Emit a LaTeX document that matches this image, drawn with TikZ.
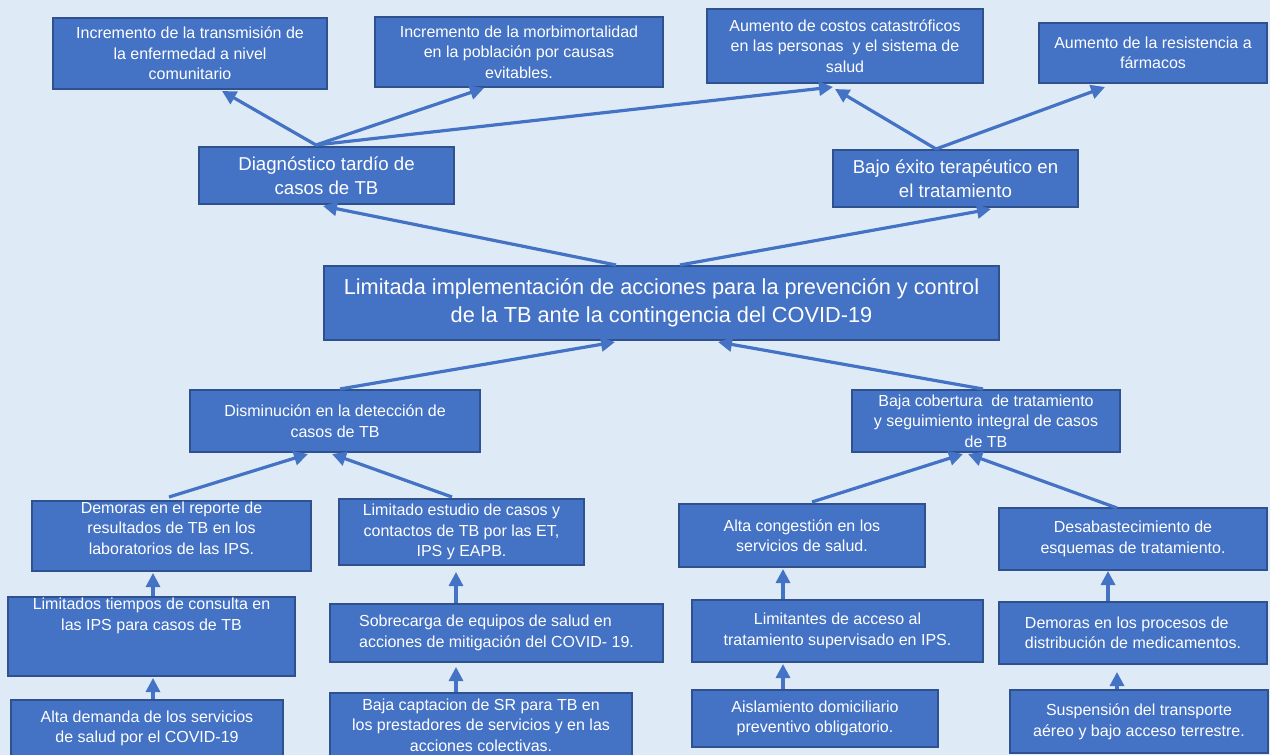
\documentclass[tikz,border=0pt]{standalone}
\usepackage{fontspec}
\setmainfont{Liberation Sans}
\usetikzlibrary{arrows.meta,calc}
\definecolor{bgc}{HTML}{DEEBF7}
\definecolor{boxfill}{HTML}{4472C4}
\definecolor{boxline}{HTML}{2F528F}
\definecolor{arrc}{HTML}{4472C4}
\newcommand\bx[7]{\node[box,#6,minimum width={(#4-#2)*0.75pt},minimum height={(#5-#3)*0.75pt}] (#1) at ({(#2+#4)/2},{(#3+#5)/2}) {#7};}
\begin{document}
\begin{tikzpicture}[x=0.75pt,y=-0.75pt,
  box/.style={draw=boxline,fill=boxfill,line width=1.5pt,text=white,align=center,inner sep=0pt,font=\fontsize{12}{15.4}\selectfont},
  txt/.style={text=white,align=center,inner sep=0pt,font=\fontsize{12}{15.4}\selectfont},
  bigtxt/.style={font=\fontsize{14}{18}\selectfont},
  hugetxt/.style={font=\fontsize{16.3}{21}\selectfont},
  conn/.style={draw=arrc,line width=2.4pt,-{Triangle[length=10.5pt,width=10.5pt]}},
]
\clip (0,0) rectangle (1270,755);
\fill[bgc] (0,0) rectangle (1270,755);

% top row (effects)
\bx{T1}{53}{18}{327}{89}{}{Incremento de la transmisión de\\la enfermedad a nivel\\comunitario}
\bx{T2}{375}{17}{663}{87}{}{Incremento de la morbimortalidad\\en la población por causas\\evitables.}
\bx{T3}{707}{9}{983}{83}{}{Aumento de costos catastróficos\\en las personas ~y el sistema de\\salud}
\bx{T4}{1039}{23}{1267}{83}{}{Aumento de la resistencia a\\fármacos}

% second row
\bx{D1}{199}{147}{454}{204}{bigtxt}{Diagnóstico tardío de\\casos de TB}
\bx{D2}{833}{150}{1078}{207}{bigtxt}{Bajo éxito terapéutico en\\el tratamiento}

% central problem
\bx{C}{324}{266}{999}{340}{hugetxt}{Limitada implementación de acciones para la prevención y control\\de la TB ante la contingencia del COVID-19}

% causes
\bx{E1}{190}{390}{480}{452}{}{Disminución en la detección de\\casos de TB}
\bx{E2}{852}{390}{1120}{452}{}{Baja cobertura ~de tratamiento\\y seguimiento integral de casos\\de TB}

\bx{F1}{32}{501}{311}{571}{}{}
\node[txt] (F1t) at (171.5,528) {Demoras en el reporte de\\resultados de TB en los\\laboratorios de las IPS.};
\bx{F2}{339}{499}{584}{565}{}{Limitado estudio de casos y\\contactos de TB por las ET,\\IPS y EAPB.}
\bx{F3}{679}{504}{925}{567}{}{Alta congestión en los\\servicios de salud.}
\bx{F4}{999}{508}{1267}{570}{}{Desabastecimiento de\\esquemas de tratamiento.}

\bx{G1}{8}{597}{295}{676}{}{}
\node[txt] (G1t) at (151.5,616) {Limitados tiempos de consulta en\\las IPS para casos de TB};
\bx{G2}{330}{604}{663}{662}{align=left}{Sobrecarga de equipos de salud en\\acciones de mitigación del COVID- 19.}
\bx{G3}{692}{600}{983}{662}{}{Limitantes de acceso al\\tratamiento supervisado en IPS.}
\bx{G4}{999}{602}{1267}{664}{align=left}{Demoras en los procesos de\\distribución de medicamentos.}

\bx{H1}{11}{700}{283}{757}{}{Alta demanda de los servicios\\de salud por el COVID-19}
\bx{H2}{330}{693}{632}{757}{}{Baja captacion de SR para TB en\\los prestadores de servicios y en las\\acciones colectivas.}
\bx{H3}{692}{690}{938}{747}{}{Aislamiento domiciliario\\preventivo obligatorio.}
\bx{H4}{1010}{690}{1268}{753}{}{Suspensión del transporte\\aéreo y bajo acceso terrestre.}

% connectors
\draw[conn] ($(D1.north)+(-10.5,-1)$) -- ($(T1.south)+(32,1)$);
\draw[conn] ($(D1.north)+(-10.5,-1)$) -- ($(T2.south)+(-35,0)$);
\draw[conn] ($(D1.north)+(-10.5,-1)$) -- ($(T3.south)+(-12,3)$);
\draw[conn] ($(D2.north)+(-19.5,0)$) -- ($(T3.south)+(-10,5)$);
\draw[conn] ($(D2.north)+(-19.5,0)$) -- ($(T4.south)+(-48,3)$);
\draw[conn] ($(C.north)+(-45.5,0)$) -- ($(D1.south)+(-3.5,1)$);
\draw[conn] ($(C.north)+(18.5,0)$) -- ($(D2.south)+(35.5,1)$);
\draw[conn] ($(E1.north)+(5,0)$) -- ($(C.south)+(-46.5,1)$);
\draw[conn] ($(E2.north)+(-3,0)$) -- ($(C.south)+(56.5,1)$);
\draw[conn] ($(F1.north)+(-2.5,-3)$) -- ($(E1.south)+(-27,1)$);
\draw[conn] ($(F2.north)+(-9.5,-1)$) -- ($(E1.south)+(-3,1)$);
\draw[conn] ($(F3.north)+(10,-1)$) -- ($(E2.south)+(-23,1)$);
\draw[conn] ($(F4.north)+(-16,1)$) -- ($(E2.south)+(-18,1)$);
\draw[conn] ($(G1.north)+(1.5,0)$) -- ($(F1.south)+(-18.5,1)$);
\draw[conn] ($(H1.north)+(6,0)$) -- ($(G1.south)+(1.5,1)$);
\draw[conn] ($(G2.north)+(-40.5,0)$) -- ($(F2.south)+(-5.5,6)$);
\draw[conn] ($(H2.north)+(-25,0)$) -- ($(G2.south)+(-40.5,4)$);
\draw[conn] ($(G3.north)+(-54.5,0)$) -- ($(F3.south)+(-19,1)$);
\draw[conn] ($(H3.north)+(-32,0)$) -- ($(G3.south)+(-54.5,1)$);
\draw[conn] ($(G4.north)+(-25,0)$) -- ($(F4.south)+(-25,0)$);
\draw[conn] ($(H4.north)+(-22,0)$) -- ($(G4.south)+(-16,7)$);
\end{tikzpicture}
\end{document}
